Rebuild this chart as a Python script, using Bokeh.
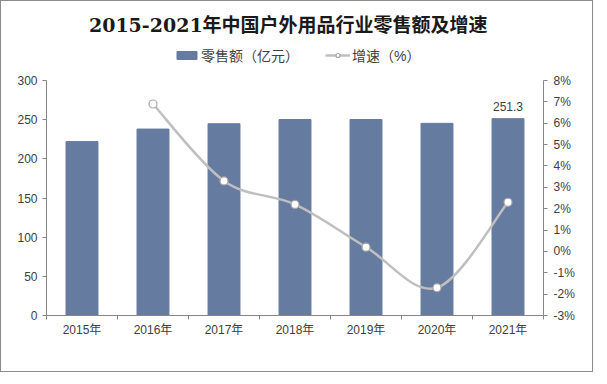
from bokeh.plotting import figure
from bokeh.layouts import column
from bokeh.models import (Range1d, LinearAxis, FixedTicker, PrintfTickFormatter,
                          Legend, LegendItem, ColumnDataSource, Label)
from bokeh.embed import file_html
from bokeh.resources import INLINE

title_text = "2015-2021年中国户外用品行业零售额及增速"
series_names = ["零售额（亿元）", "增速（%）"]
years = ["2015年", "2016年", "2017年", "2018年", "2019年", "2020年", "2021年"]
sales = [222.0, 238.0, 244.8, 250.2, 250.2, 245.3, 251.3]
growth_years = [1, 2, 3, 4, 5, 6]  # index into years (2016..2021)
growth = [6.9, 3.3, 2.2, 0.2, -1.7, 2.3]

BAR = "#667BA0"
LINE = "#BFBFBF"
MK = "#A6A6A6"
TXT = "#404040"
SANS = "'Liberation Sans', 'Noto Sans CJK SC'"
W = 591
HH = 70

# ---------------- header (title + legend) ----------------
h = figure(width=W, height=HH, x_range=Range1d(0, W), y_range=Range1d(0, HH),
           x_axis_type=None, y_axis_type=None,
           output_backend="svg", toolbar_location=None,
           min_border=0, min_border_left=0, min_border_right=0,
           min_border_top=0, min_border_bottom=0)
h.grid.visible = False
h.outline_line_color = None

h.add_layout(Label(x=W / 2 - 8, y=HH - 23, text=title_text, text_align="center",
                   text_baseline="middle", text_font="'DejaVu Serif', 'Noto Sans CJK SC'",
                   text_font_size="19px", text_font_style="bold", text_color="#1a1a1a"))

# legend-only renderers, outside the visible ranges
lb = h.vbar(x=[-100], top=[-100], bottom=[-110], width=1, color=BAR)
ll = h.line(x=[-100, -90], y=[-100, -100], line_color=LINE, line_width=2.5)
lp = h.scatter(x=[-100], y=[-100], size=8, fill_color="white", line_color=MK, line_width=1.2)
legend = Legend(items=[LegendItem(label=series_names[0], renderers=[lb]),
                       LegendItem(label=series_names[1], renderers=[ll, lp])],
                orientation="horizontal", location=(128, 6),
                label_text_font=SANS, label_text_font_size="14px", label_text_color=TXT,
                glyph_width=25, glyph_height=10, spacing=26, border_line_color=None,
                background_fill_alpha=0, padding=2, margin=0, label_standoff=2)
h.add_layout(legend, "center")

# ---------------- main chart ----------------
xc = [i + 0.5 for i in range(len(years))]

p = figure(width=W, height=300, x_range=Range1d(0, 7), y_range=Range1d(0, 300),
           output_backend="svg", toolbar_location=None,
           min_border_left=45, min_border_right=49, min_border_bottom=56, min_border_top=9)
p.extra_y_ranges = {"pct": Range1d(-3, 8)}
p.xgrid.visible = False
p.ygrid.visible = False
p.outline_line_color = None
p.background_fill_color = "white"

p.vbar(x=xc, top=sales, width=0.45, color=BAR)

# smooth curve via Catmull-Rom style bezier segments
gx = [xc[i] for i in growth_years]
n = len(gx)
x0, y0, x1, y1, cx0, cy0, cx1, cy1 = [], [], [], [], [], [], [], []
for i in range(n - 1):
    pxm = gx[i - 1] if i > 0 else gx[i]
    pym = growth[i - 1] if i > 0 else growth[i]
    pxp = gx[i + 2] if i + 2 < n else gx[i + 1]
    pyp = growth[i + 2] if i + 2 < n else growth[i + 1]
    x0.append(gx[i]); y0.append(growth[i])
    x1.append(gx[i + 1]); y1.append(growth[i + 1])
    cx0.append(gx[i] + (gx[i + 1] - pxm) / 6); cy0.append(growth[i] + (growth[i + 1] - pym) / 6)
    cx1.append(gx[i + 1] - (pxp - gx[i]) / 6); cy1.append(growth[i + 1] - (pyp - growth[i]) / 6)
p.bezier(x0=x0, y0=y0, x1=x1, y1=y1, cx0=cx0, cy0=cy0, cx1=cx1, cy1=cy1,
         line_color=LINE, line_width=2.5, y_range_name="pct")
p.scatter(x=gx, y=growth, size=8, fill_color="white", line_color=MK,
          line_width=1.2, y_range_name="pct")

# data label
src = ColumnDataSource(dict(x=[xc[-1]], y=[sales[-1]], t=["%.1f" % sales[-1]]))
p.text(x="x", y="y", text="t", source=src, text_align="center", text_baseline="bottom",
       y_offset=-8, text_font_size="12px", text_color=TXT, text_font={"value": SANS})

# axes
xa = p.xaxis[0]
xa.ticker = FixedTicker(ticks=xc, minor_ticks=list(range(8)))
xa.major_label_overrides = {x: y for x, y in zip(xc, years)}
xa.major_tick_out = 0
xa.major_tick_in = 0
xa.minor_tick_out = 4
xa.minor_tick_in = 0
xa.major_label_standoff = 3

ya = p.yaxis[0]
ya.ticker = FixedTicker(ticks=[0, 50, 100, 150, 200, 250, 300])
ya.major_tick_out = 4
ya.major_tick_in = 0
ya.minor_tick_out = 0
ya.minor_tick_in = 0
ya.major_label_standoff = 5

ra = LinearAxis(y_range_name="pct", ticker=FixedTicker(ticks=list(range(-3, 9))),
                formatter=PrintfTickFormatter(format="%d%%"))
ra.major_tick_out = 4
ra.major_tick_in = 0
ra.minor_tick_out = 0
ra.minor_tick_in = 0
ra.major_label_standoff = 6
p.add_layout(ra, "right")

for ax in [xa, ya, ra]:
    ax.axis_line_color = "#868686"
    ax.major_tick_line_color = "#868686"
    ax.minor_tick_line_color = "#868686"
    ax.major_label_text_font = SANS
    ax.major_label_text_font_size = "12px"
    ax.major_label_text_color = TXT

layout = column(h, p, spacing=0)
layout.styles = {"border": "1px solid #8c8c8c", "box-sizing": "border-box"}

open("out.html", "w").write(file_html(layout, INLINE))
